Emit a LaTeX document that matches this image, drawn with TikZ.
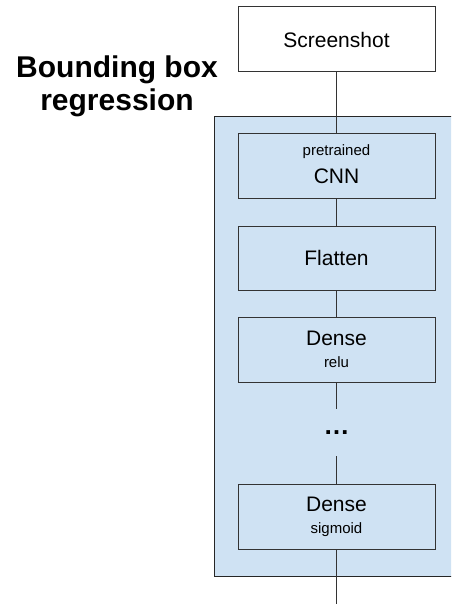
\documentclass[tikz,border=0pt]{standalone}
\usepackage{fontspec}
\setmainfont{Liberation Sans}
\definecolor{panelblue}{HTML}{CFE2F3}
\definecolor{edgegrey}{HTML}{333333}
\begin{document}
\begin{tikzpicture}[x=1pt,y=-1pt,
  layerbox/.style={draw=edgegrey, line width=1pt, fill=panelblue, minimum width=197pt, minimum height=65pt, inner sep=0pt, align=center, font=\fontsize{21}{28}\selectfont},
  link/.style={draw=edgegrey, line width=1pt}]
\useasboundingbox (0,0) rectangle (451,604);
\clip (0,0) rectangle (451,604);
\fill[white] (0,0) rectangle (451,604);
% container
\node[draw=black!85, line width=1.2pt, fill=panelblue, minimum width=260pt, minimum height=460pt, inner sep=0pt, anchor=north west] (panel) at (214,116) {};
% title
\node[font=\bfseries\fontsize{30}{33}\selectfont, align=center] (title) at (117,86) {Bounding box\\regression};
% boxes
\node[layerbox, fill=white] (shot) at (336.5,39.5) {Screenshot};
\node[layerbox, minimum height=64pt] (cnn) at (336.5,166) {{\fontsize{15}{28}\selectfont pretrained}\\CNN\rule[-4pt]{0pt}{0pt}};
\node[layerbox, minimum height=64pt] (flat) at (336.5,258) {Flatten};
\node[layerbox] (relu) at (336.5,349.5) {Dense\\[-6pt]{\fontsize{15}{18}\selectfont relu}};
\node[inner sep=0pt, minimum height=47pt, font=\bfseries\fontsize{26}{28}\selectfont] (dots) at (336.5,432.5) {\raisebox{-4pt}{…}};
\node[layerbox] (sigm) at (336.5,516.5) {Dense\\[-6pt]{\fontsize{15}{18}\selectfont sigmoid}};
\coordinate (out) at (336.5,604);
% connectors
\draw[link] (shot.south) -- (cnn.north);
\draw[link] (cnn.south) -- (flat.north);
\draw[link] (flat.south) -- (relu.north);
\draw[link] (relu.south) -- (dots.north);
\draw[link] (dots.south) -- (sigm.north);
\draw[link] (sigm.south) -- (out);
\end{tikzpicture}
\end{document}
